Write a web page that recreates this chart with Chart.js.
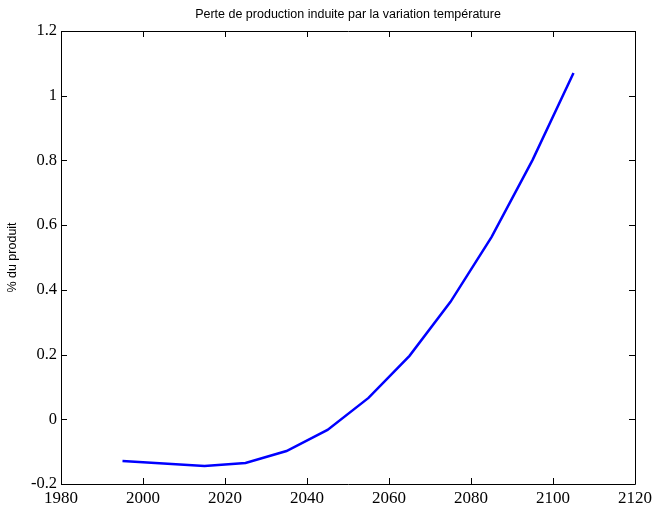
<!DOCTYPE html>
<html>
<head>
<meta charset="utf-8">
<script src="https://cdn.jsdelivr.net/npm/chart.js@4/dist/chart.umd.min.js"></script>
<style>
html,body{margin:0;padding:0;background:#fff;}
#wrap{width:656px;height:505px;}
</style>
</head>
<body>
<div id="wrap"><canvas id="c" width="656" height="505"></canvas></div>
<script>
const years = [1995, 2015, 2025, 2035, 2045, 2055, 2065, 2075, 2085, 2095, 2105];
const loss = [-0.129, -0.144, -0.135, -0.098, -0.033, 0.066, 0.196, 0.363, 0.563, 0.801, 1.070];
const xTicks = [1980, 2000, 2020, 2040, 2060, 2080, 2100, 2120];
const yTicks = [-0.2, 0, 0.2, 0.4, 0.6, 0.8, 1, 1.2];
const yTickLabels = ['-0.2', '0', '0.2', '0.4', '0.6', '0.8', '1', '1.2'];
const titleText = 'Perte de production induite par la variation température';
const yTitle = '% du produit';

const boxPlugin = {
  id: 'boxTicks',
  afterDatasetsDraw(chart) {
    const {ctx, chartArea: a, scales: {x, y}} = chart;
    ctx.save();
    ctx.strokeStyle = '#000';
    ctx.lineWidth = 1;
    ctx.beginPath();
    ctx.rect(Math.round(a.left) + 0.5, Math.round(a.top) + 0.5, Math.round(a.right - a.left), Math.round(a.bottom - a.top));
    ctx.stroke();
    const L = 6;
    ctx.beginPath();
    xTicks.forEach(v => {
      const px = Math.round(x.getPixelForValue(v)) + 0.5;
      ctx.moveTo(px, a.bottom); ctx.lineTo(px, a.bottom - L);
      ctx.moveTo(px, a.top); ctx.lineTo(px, a.top + L);
    });
    yTicks.forEach(v => {
      const py = Math.round(y.getPixelForValue(v)) + 0.5;
      ctx.moveTo(a.left, py); ctx.lineTo(a.left + L, py);
      ctx.moveTo(a.right, py); ctx.lineTo(a.right - L, py);
    });
    ctx.stroke();
    ctx.restore();
  }
};

new Chart(document.getElementById('c'), {
  type: 'line',
  data: {
    datasets: [{
      data: years.map((yr, i) => ({x: yr, y: loss[i]})),
      borderColor: '#0000ff',
      borderWidth: 2.5,
      pointRadius: 0,
      tension: 0,
      fill: false
    }]
  },
  options: {
    responsive: false,
    animation: false,
    devicePixelRatio: 1,
    layout: {padding: {left: 0, right: 21, top: 0, bottom: 0}},
    plugins: {
      legend: {display: false},
      tooltip: {enabled: false},
      title: {
        display: true,
        text: titleText,
        fullSize: false,
        color: '#000',
        font: {family: 'Liberation Sans', size: 12.5, weight: 'normal', lineHeight: 1.2},
        padding: {top: 7, bottom: 9}
      }
    },
    scales: {
      x: {
        type: 'linear',
        min: 1980, max: 2120,
        grid: {display: false, drawTicks: false},
        border: {display: false},
        afterBuildTicks: s => { s.ticks = xTicks.map(v => ({value: v})); },
        afterFit: s => { s.height = 21; },
        ticks: {
          color: '#000',
          padding: 4,
          maxRotation: 0,
          autoSkip: false,
          font: {family: 'Liberation Serif', size: 17},
          callback: v => String(v)
        }
      },
      y: {
        type: 'linear',
        min: -0.2, max: 1.2,
        grid: {display: false, drawTicks: false},
        border: {display: false},
        afterBuildTicks: s => { s.ticks = yTicks.map(v => ({value: v})); },
        afterFit: s => { s.width = 61; },
        title: {
          display: true,
          text: yTitle,
          color: '#000',
          font: {family: 'Liberation Sans', size: 12.5, lineHeight: 1.2},
          padding: {top: 5, bottom: 0}
        },
        ticks: {
          color: '#000',
          padding: 4,
          autoSkip: false,
          font: {family: 'Liberation Serif', size: 16.5},
          callback: (v) => {
            const i = yTicks.findIndex(t => Math.abs(t - v) < 1e-9);
            return i >= 0 ? yTickLabels[i] : '';
          }
        }
      }
    }
  },
  plugins: [boxPlugin]
});
</script>
</body>
</html>
